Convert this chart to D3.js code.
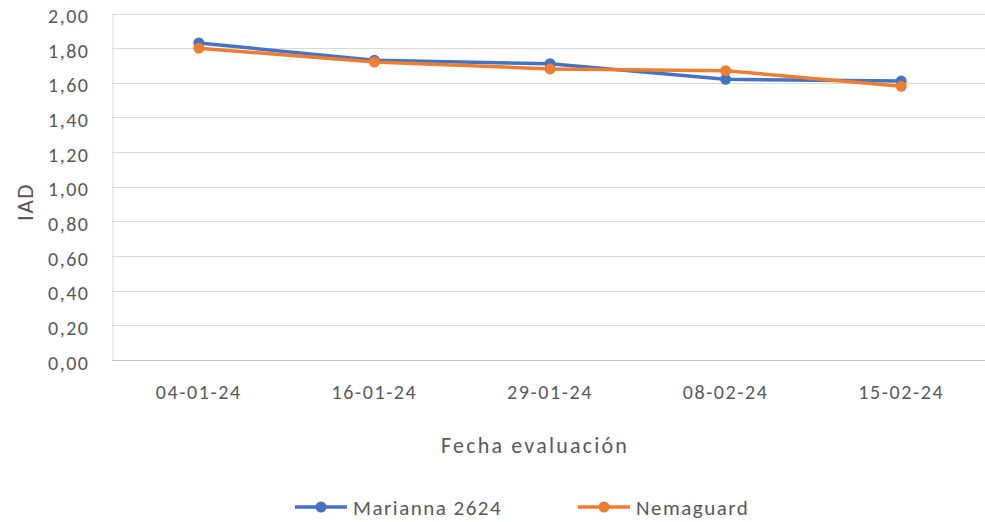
<!DOCTYPE html>
<html>
<head>
<meta charset="utf-8">
<script src="https://cdn.jsdelivr.net/npm/d3@7"></script>
<style>
  body { margin: 0; background: #fff; }
  svg { display: block; font-family: Carlito, Calibri, Lato, sans-serif; }
</style>
</head>
<body>
<div id="chart"></div>
<script>
const fechas = ["04-01-24", "16-01-24", "29-01-24", "08-02-24", "15-02-24"];
const marianna = [1.83, 1.73, 1.71, 1.62, 1.61];
const nemaguard = [1.80, 1.72, 1.68, 1.67, 1.58];
const yTicks = [0, 0.2, 0.4, 0.6, 0.8, 1.0, 1.2, 1.4, 1.6, 1.8, 2.0];

const SERIES = [
  { name: "Marianna 2624", values: marianna, color: "#4472c4" },
  { name: "Nemaguard", values: nemaguard, color: "#ed7d31" }
];

const width = 985, height = 522;
const FONT = "Carlito, Calibri, Lato, sans-serif";
const svg = d3.select("#chart").append("svg")
  .attr("width", width)
  .attr("height", height);

const x = d3.scaleBand().domain(fechas).range([111, 989]);
const y = d3.scaleLinear().domain([0, 2]).range([360, 13.5]);
const fmt = v => d3.format(".2f")(v).replace(".", ",");

// grid
svg.append("g")
  .selectAll("line")
  .data(yTicks.filter(t => t > 0))
  .enter()
  .append("line")
  .attr("x1", 112)
  .attr("x2", width)
  .attr("y1", d => Math.round(y(d)) + 0.5)
  .attr("y2", d => Math.round(y(d)) + 0.5)
  .attr("stroke", "#d9d9d9")
  .attr("stroke-width", 1);

// y axis
const yAxis = svg.append("g")
  .attr("transform", "translate(112.5,0)")
  .call(d3.axisLeft(y).tickValues(yTicks).tickFormat(fmt).tickSize(0).tickPadding(23));
yAxis.select(".domain").attr("stroke", "#d9d9d9");
yAxis.selectAll("text")
  .attr("fill", "#595959")
  .attr("dy", "0.45em")
  .style("font-size", "20px")
  .style("letter-spacing", "1.5px")
  .style("font-family", FONT);

// x axis
const xAxis = svg.append("g")
  .attr("transform", "translate(0,360.5)")
  .call(d3.axisBottom(x).tickSize(0).tickPadding(24));
xAxis.select(".domain").attr("stroke", "#bfbfbf").attr("d", `M112,0H${width}`);
xAxis.selectAll("text")
  .attr("fill", "#595959")
  .style("font-size", "20px")
  .style("letter-spacing", "1.6px")
  .style("font-family", FONT);

// titles
svg.append("text")
  .attr("transform", "translate(33,202) rotate(-90)")
  .attr("text-anchor", "middle")
  .attr("fill", "#595959")
  .style("font-size", "23px")
  .style("letter-spacing", "1.5px")
  .text("IAD");

svg.append("text")
  .attr("x", 535)
  .attr("y", 453)
  .attr("text-anchor", "middle")
  .attr("fill", "#595959")
  .style("font-size", "22px")
  .style("letter-spacing", "2.2px")
  .text("Fecha evaluación");

// series
const cx = d => x(d) + x.bandwidth() / 2;
const line = d3.line().x((d, i) => cx(fechas[i])).y(d => y(d));

SERIES.forEach(s => {
  svg.append("path")
    .datum(s.values)
    .attr("d", line)
    .attr("fill", "none")
    .attr("stroke", s.color)
    .attr("stroke-width", 3.5)
    .attr("stroke-linejoin", "round")
    .attr("stroke-linecap", "round");
  svg.append("g")
    .selectAll("circle")
    .data(s.values)
    .enter()
    .append("circle")
    .attr("cx", (d, i) => cx(fechas[i]))
    .attr("cy", d => y(d))
    .attr("r", 5.5)
    .attr("fill", s.color);
});

// legend
const legendX = [295, 578];
const legend = svg.append("g")
  .selectAll("g")
  .data(SERIES)
  .enter()
  .append("g")
  .attr("transform", (d, i) => `translate(${legendX[i]},507)`);
legend.append("line")
  .attr("x1", 0).attr("x2", 52)
  .attr("stroke", d => d.color)
  .attr("stroke-width", 3.5);
legend.append("circle")
  .attr("cx", 26)
  .attr("r", 5.5)
  .attr("fill", d => d.color);
legend.append("text")
  .attr("x", 58)
  .attr("y", 8)
  .attr("fill", "#595959")
  .style("font-size", "21px")
  .style("letter-spacing", "1.5px")
  .text(d => d.name);
</script>
</body>
</html>
